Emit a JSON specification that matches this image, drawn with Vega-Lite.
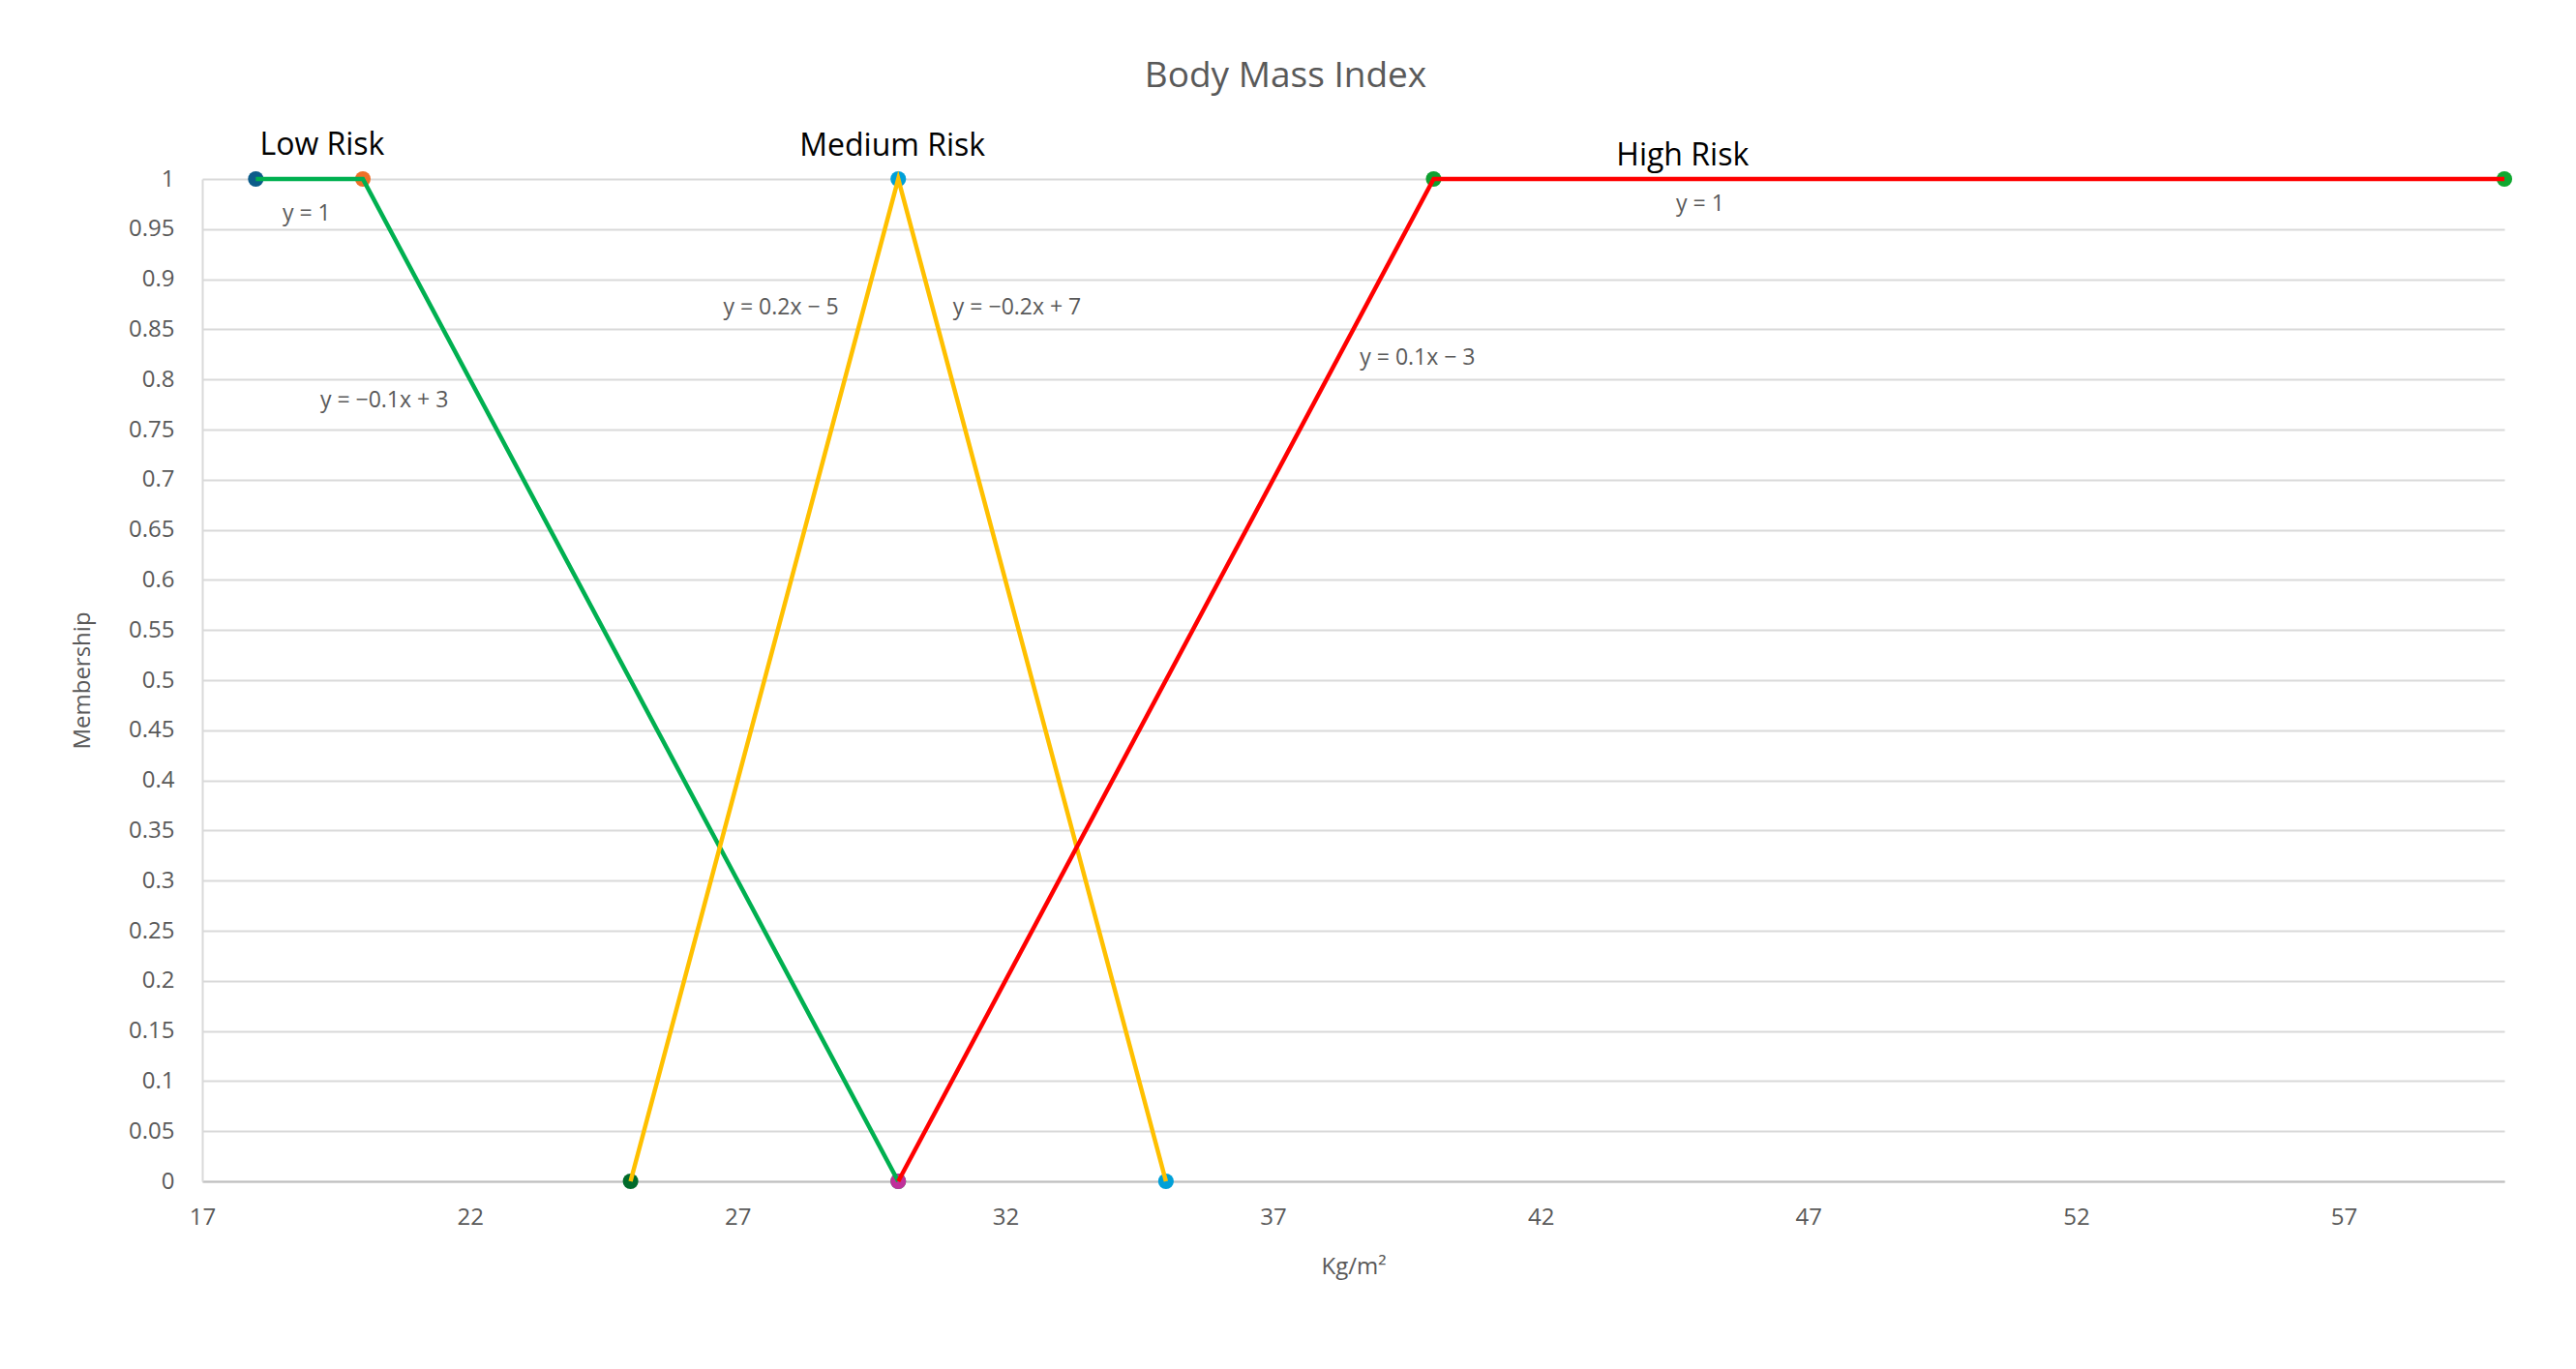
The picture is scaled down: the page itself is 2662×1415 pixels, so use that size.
{
  "$schema": "https://vega.github.io/schema/vega-lite/v6.json",
  "width": 2379,
  "height": 1036,
  "autosize": {"type": "none"},
  "padding": {"left": 209, "top": 185, "right": 74, "bottom": 194},
  "background": "white",
  "config": {"font": "Open Sans", "view": {"stroke": null}},
  "title": {
    "text": "Body Mass Index",
    "fontSize": 37,
    "fontWeight": "normal",
    "color": "#595959",
    "anchor": "middle",
    "dx": -70,
    "baseline": "middle",
    "offset": 18
  },
  "datasets": {
    "pts": [
      {"series": "Low Risk", "pt": "L1", "x": 18, "y": 1},
      {"series": "Low Risk", "pt": "L2", "x": 20, "y": 1},
      {"series": "Low Risk", "pt": "L3", "x": 30, "y": 0},
      {"series": "Medium Risk", "pt": "M1", "x": 25, "y": 0},
      {"series": "Medium Risk", "pt": "M2", "x": 30, "y": 1},
      {"series": "Medium Risk", "pt": "M3", "x": 35, "y": 0},
      {"series": "High Risk", "pt": "H1", "x": 30, "y": 0},
      {"series": "High Risk", "pt": "H2", "x": 40, "y": 1},
      {"series": "High Risk", "pt": "H3", "x": 60, "y": 1}
    ],
    "names": [
      {"label": "Low Risk", "x": 19.24, "y": 1.034},
      {"label": "Medium Risk", "x": 29.89, "y": 1.033},
      {"label": "High Risk", "x": 44.65, "y": 1.023}
    ],
    "eqs": [
      {"label": "y = 1", "x": 18.95, "y": 0.965},
      {"label": "y = −0.1x + 3", "x": 20.4, "y": 0.779},
      {"label": "y = 0.2x − 5", "x": 27.81, "y": 0.872},
      {"label": "y = −0.2x + 7", "x": 32.22, "y": 0.872},
      {"label": "y = 0.1x − 3", "x": 39.7, "y": 0.821},
      {"label": "y = 1", "x": 44.98, "y": 0.975}
    ]
  },
  "layer": [
    {
      "data": {"name": "pts"},
      "mark": {"type": "point", "filled": true, "size": 260, "opacity": 1},
      "encoding": {
        "x": {
          "field": "x",
          "type": "quantitative",
          "scale": {"domain": [17, 60], "nice": false, "zero": false},
          "axis": {
            "values": [17, 22, 27, 32, 37, 42, 47, 52, 57],
            "grid": false,
            "domainColor": "#bfbfbf",
            "domainWidth": 2,
            "ticks": false,
            "tickSize": 0,
            "labelFontSize": 24,
            "labelColor": "#595959",
            "labelPadding": 25,
            "labelFlush": false,
            "title": "Kg/m²",
            "titleFontSize": 24,
            "titleFontWeight": "normal",
            "titleColor": "#595959",
            "titleY": 88,
            "titleBaseline": "middle"
          }
        },
        "y": {
          "field": "y",
          "type": "quantitative",
          "scale": {"domain": [0, 1], "nice": false},
          "axis": {
            "values": [0, 0.05, 0.1, 0.15, 0.2, 0.25, 0.3, 0.35, 0.4, 0.45, 0.5, 0.55, 0.6, 0.65, 0.7, 0.75, 0.8, 0.85, 0.9, 0.95, 1],
            "format": "~g",
            "grid": true,
            "gridColor": "#d9d9d9",
            "gridWidth": 2,
            "domainColor": "#d9d9d9",
            "domainWidth": 2,
            "ticks": false,
            "tickSize": 0,
            "labelFontSize": 24,
            "labelColor": "#595959",
            "labelPadding": 29,
            "labelFlush": false,
            "title": "Membership",
            "titleFontSize": 24,
            "titleFontWeight": "normal",
            "titleColor": "#595959",
            "titleX": -124,
            "titleY": 518,
            "titleAngle": 270,
            "titleAlign": "center",
            "titleBaseline": "middle"
          }
        },
        "fill": {
          "field": "pt",
          "type": "nominal",
          "scale": {
            "domain": ["L1", "L2", "L3", "M1", "M2", "M3", "H1", "H2", "H3"],
            "range": ["#0b5c8a", "#f07028", "#00b050", "#006b2b", "#00a0d8", "#00a0d8", "#c0309a", "#10a030", "#10a830"]
          },
          "legend": null
        }
      }
    },
    {
      "data": {"name": "pts"},
      "mark": {"type": "line", "strokeWidth": 4.5},
      "encoding": {
        "x": {"field": "x", "type": "quantitative"},
        "y": {"field": "y", "type": "quantitative"},
        "order": {"field": "x", "type": "quantitative"},
        "stroke": {
          "field": "series",
          "type": "nominal",
          "scale": {
            "domain": ["Low Risk", "Medium Risk", "High Risk"],
            "range": ["#00b050", "#ffc000", "#ff0000"]
          },
          "legend": null
        }
      }
    },
    {
      "data": {"name": "names"},
      "mark": {"type": "text", "fontSize": 32, "color": "#000000", "align": "center", "baseline": "middle"},
      "encoding": {
        "x": {"field": "x", "type": "quantitative"},
        "y": {"field": "y", "type": "quantitative"},
        "text": {"field": "label", "type": "nominal"}
      }
    },
    {
      "data": {"name": "eqs"},
      "mark": {"type": "text", "fontSize": 23, "color": "#595959", "align": "center", "baseline": "middle"},
      "encoding": {
        "x": {"field": "x", "type": "quantitative"},
        "y": {"field": "y", "type": "quantitative"},
        "text": {"field": "label", "type": "nominal"}
      }
    }
  ]
}
